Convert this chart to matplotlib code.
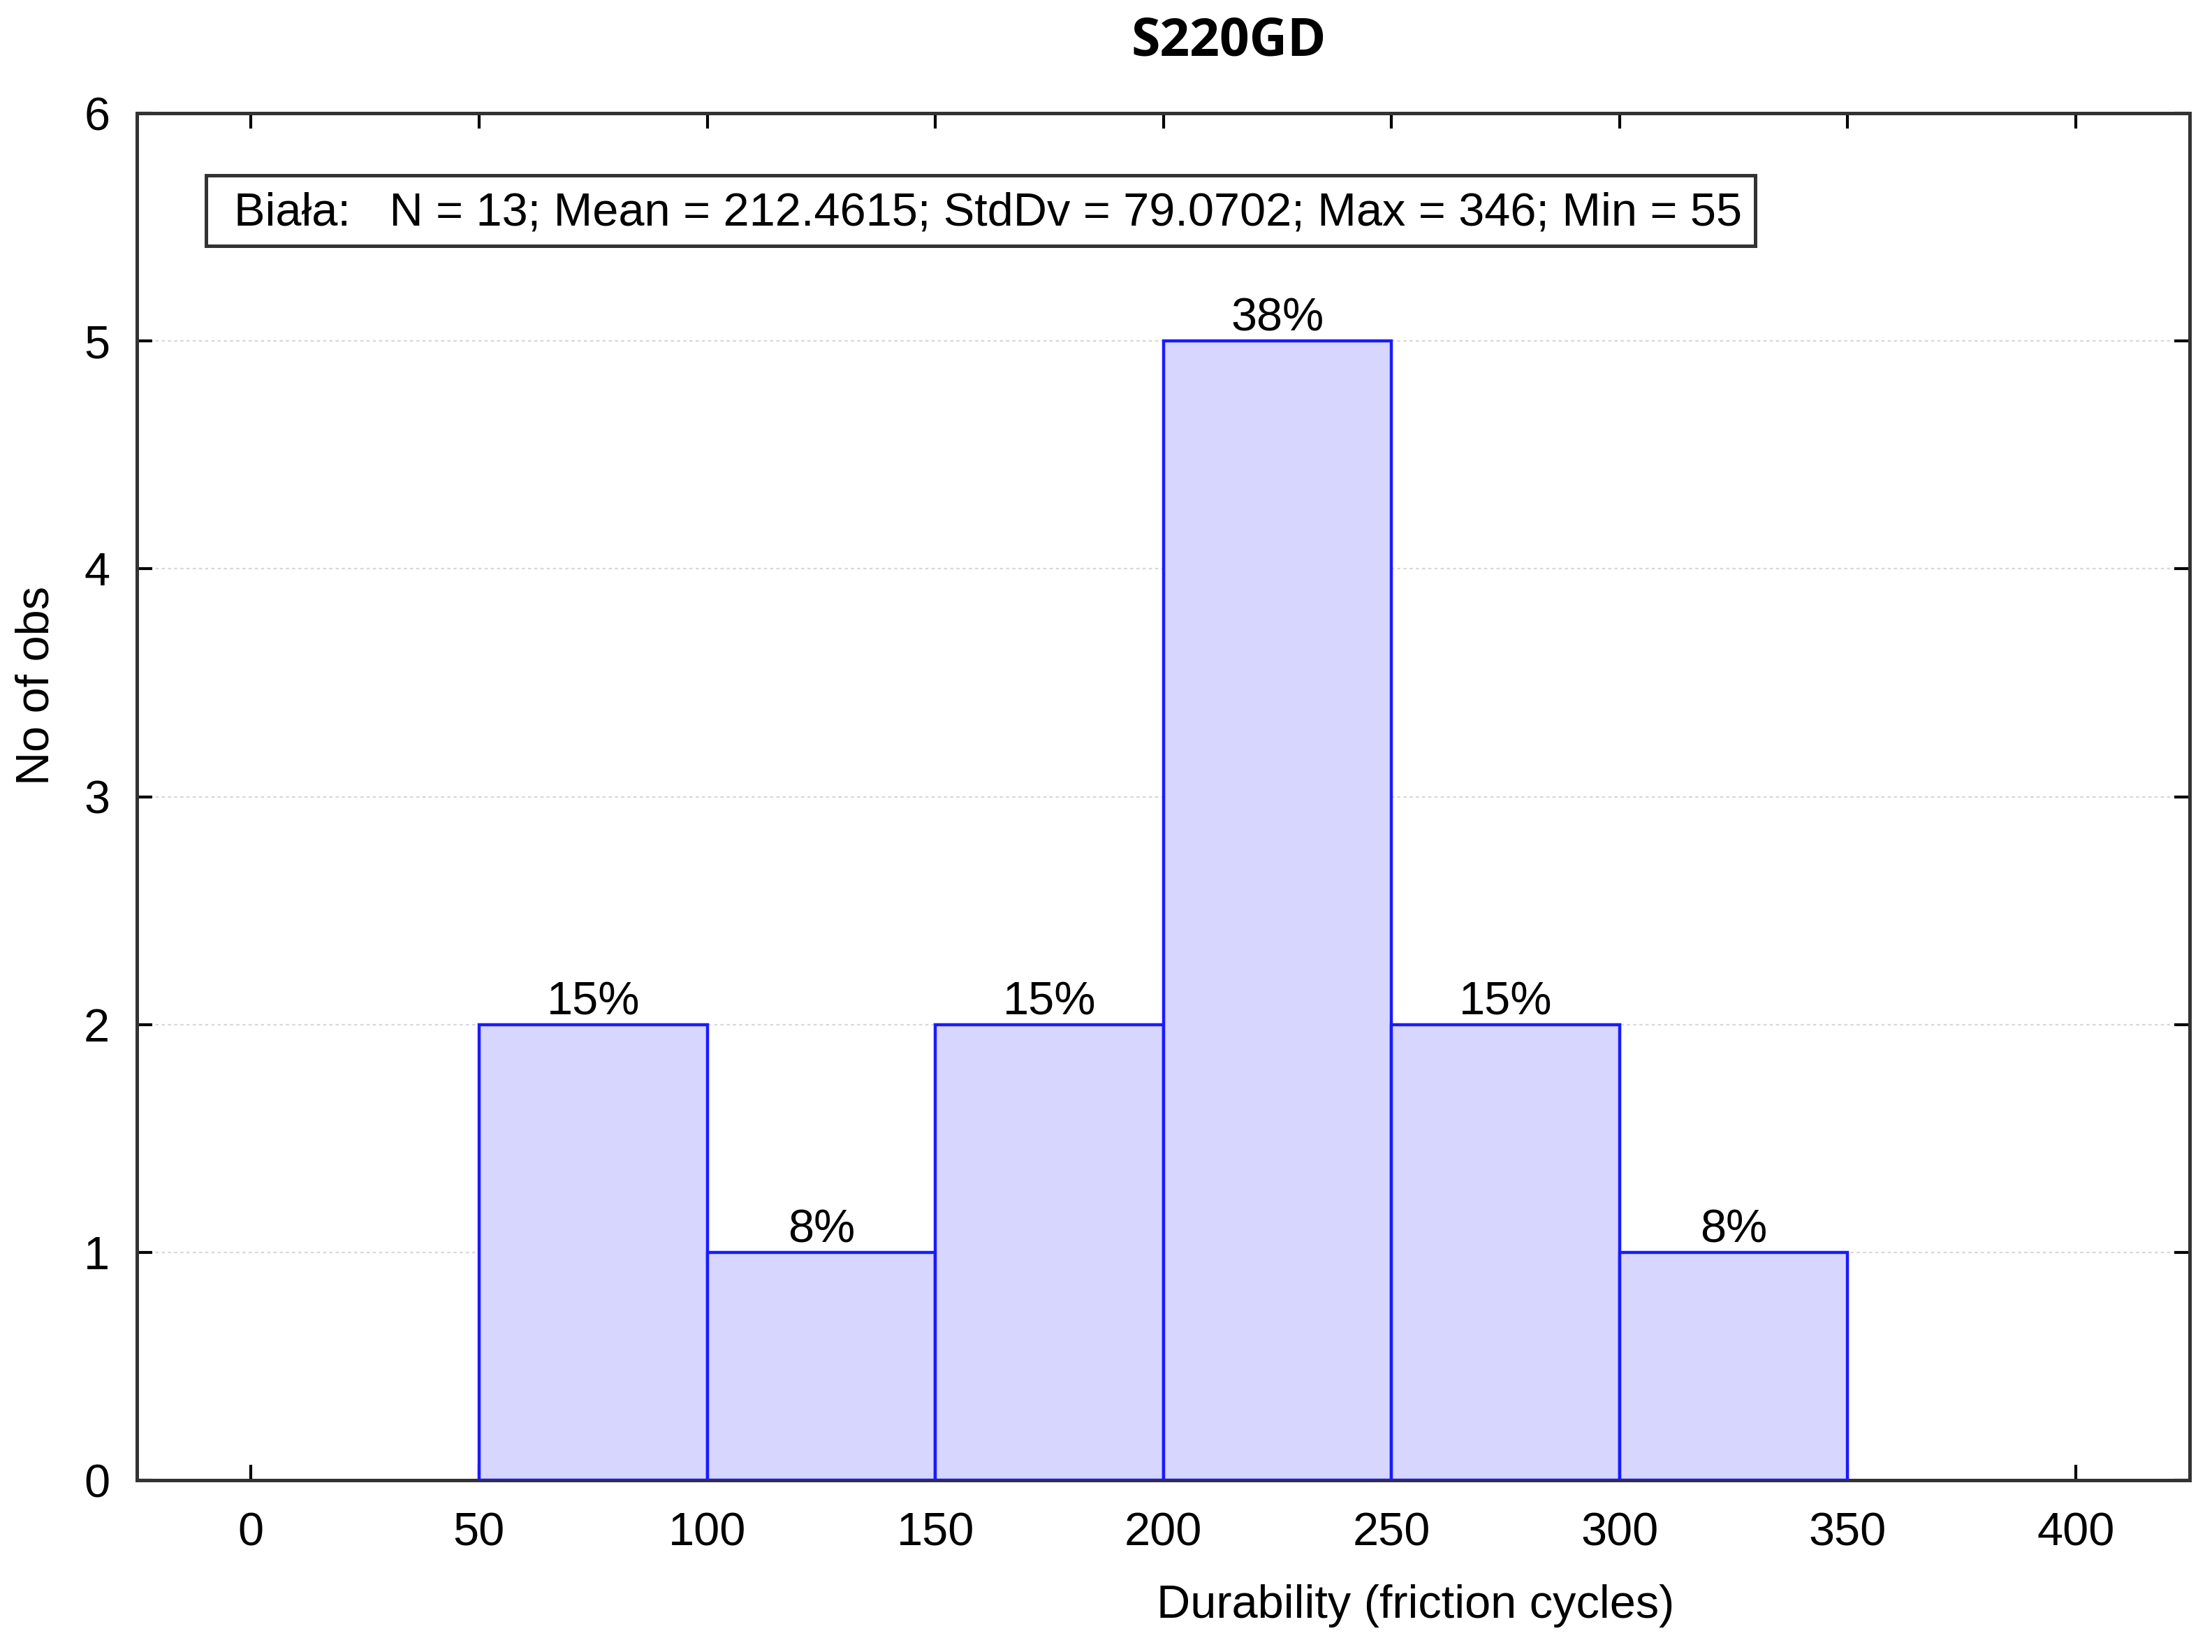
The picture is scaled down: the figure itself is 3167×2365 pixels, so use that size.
import matplotlib.pyplot as plt
from matplotlib.patches import Rectangle
import numpy as np

plt.rcParams['font.family'] = ['Liberation Sans', 'DejaVu Sans']

# histogram data
bin_edges = [50, 100, 150, 200, 250, 300, 350]
counts = [2, 1, 2, 5, 2, 1]
n_obs = 13
stats_text = "Biała:   N = 13; Mean = 212.4615; StdDv = 79.0702; Max = 346; Min = 55"
x_ticks = [0, 50, 100, 150, 200, 250, 300, 350, 400]
y_ticks = [0, 1, 2, 3, 4, 5, 6]

fig = plt.figure(figsize=(15.835, 11.825), dpi=200)
ax = fig.add_axes([0.0619, 0.104, 0.9281, 0.8275])

lefts = np.array(bin_edges[:-1])
widths = np.diff(bin_edges)
ax.bar(lefts, counts, width=widths, align='edge', color='#d6d6ff',
       edgecolor='#1a1aff', linewidth=1.6, zorder=3)

# percentage labels above bars
for x, w, c in zip(lefts, widths, counts):
    ax.text(x + w / 2, c + 0.002, f"{round(100 * c / n_obs)}%", ha='center',
            va='bottom', fontsize=24, zorder=4)

ax.set_xlim(-25, 425)
ax.set_ylim(0, 6)
ax.set_xticks(x_ticks)
ax.set_yticks(y_ticks)
ax.tick_params(direction='in', length=8, width=1.5, labelsize=24,
               top=True, right=True)
ax.tick_params(axis='x', pad=16.5)
ax.tick_params(axis='y', pad=14)
ax.yaxis.grid(True, linestyle=(0, (2, 2)), color='#d8d8d8', linewidth=0.8, zorder=0)
for s in ax.spines.values():
    s.set_linewidth(1.8)
    s.set_color('#333333')

fig.text(0.5555, 0.9745, "S220GD", ha='center', va='center', fontsize=27,
         fontweight='bold', family=['Open Sans', 'DejaVu Sans'])
fig.text(0.640, 0.028, "Durability (friction cycles)", ha='center',
         va='center', fontsize=24)
fig.text(0.0165, 0.585, "No of obs", ha='center', va='center', fontsize=24,
         rotation=90)

# stats box
ax.add_patch(Rectangle((0.0337, 0.903), 0.7546, 0.0516, transform=ax.transAxes,
                       facecolor='white', edgecolor='#333333', linewidth=1.8,
                       zorder=5))
ax.text(0.0474, 0.9268, stats_text, transform=ax.transAxes, fontsize=24,
        ha='left', va='center', zorder=6)

fig.savefig("out.png", dpi=200)
